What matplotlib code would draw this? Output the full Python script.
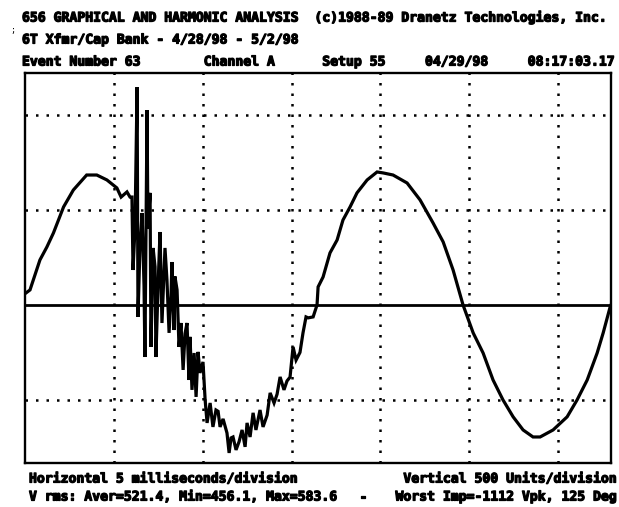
#!/usr/bin/env python3
"""
Dranetz 656 waveform capture, redrawn: one channel, 2 cycles, cap-switching transient.
Values read off the printout (time in ms, amplitude in units).
"""
import matplotlib
matplotlib.use('Agg')
import matplotlib.pyplot as plt
import matplotlib.patheffects as pe

# ---- waveform samples: clean rise, switching transient, ringing trough, clean cycle ----
T_MS = [0.00, 0.27, 0.83, 1.22, 1.59, 2.16, 2.71, 3.46, 4.03, 4.60, 5.16, 5.40, 5.73, 5.90,
        6.01, 6.07, 6.18, 6.30, 6.35, 6.46, 6.58, 6.69, 6.74, 6.86, 6.91, 7.03, 7.08, 7.20,
        7.31, 7.36, 7.48, 7.59, 7.70, 7.87, 7.98, 8.10, 8.21, 8.26, 8.38, 8.43, 8.55, 8.66,
        8.77, 8.89, 9.00, 9.11, 9.22, 9.28, 9.39, 9.51, 9.62, 9.73, 9.84, 10.01, 10.13, 10.24,
        10.41, 10.57, 10.74, 10.86, 10.97, 11.14, 11.36, 11.48, 11.59, 11.70, 11.87, 12.04,
        12.21, 12.38, 12.49, 12.66, 12.83, 12.99, 13.22, 13.39, 13.62, 13.79, 14.01, 14.18,
        14.35, 14.57, 14.74, 14.91, 15.08, 15.25, 15.47, 15.64, 15.81, 15.93, 16.21, 16.43,
        16.49, 16.77, 17.16, 17.56, 17.89, 18.29, 18.68, 19.25, 19.81, 20.15, 20.71, 21.50,
        22.23, 22.96, 23.53, 24.09, 24.65, 25.22, 25.78, 26.34, 26.90, 27.47, 28.03, 28.59,
        28.99, 29.72, 30.51, 31.07, 31.64, 32.20, 32.54, 32.93, 32.98]
VOLTS = [60, 79, 237, 305, 379, 516, 605, 684, 684, 658, 616, 568, 595, 568,
         568, 184, 400, 1147, -63, 300, 484, 100, -274, 1026, 400, 590, -221, 300,
         200, -274, 100, 384, -95, 300, 132, -147, 50, 226, -132, 150, 79, -221,
         -95, -342, -150, -95, -395, -168, -447, -253, -484, -247, -358, -300, -500, -621,
         -516, -642, -553, -560, -642, -600, -674, -779, -700, -695, -763, -720,
         -658, -747, -621, -695, -568, -658, -553, -642, -580, -463, -516, -470,
         -379, -447, -400, -380, -221, -290, -250, -147, -63, -68, -63, 0,
         95, 147, 274, 342, 447, 516, 590, 658, 700, 695, 684, 642,
         553, 432, 332, 184, 0, -147, -253, -395, -500, -589, -658, -695,
         -695, -658, -589, -500, -395, -253, -147, -11, 0]

X_GRID = [5, 10, 15, 20, 25, 30]          # 5 ms/division
Y_GRID = [-500, 500, 1000]                # 500 units/division
X_LIM = (0, 32.98)
Y_LIM = (-832, 1221)

HEADER = [
    '656 GRAPHICAL AND HARMONIC ANALYSIS  (c)1988-89 Dranetz Technologies, Inc.',
    '6T Xfmr/Cap Bank - 4/28/98 - 5/2/98',
    'Event Number 63        Channel A      Setup 55     04/29/98     08:17:03.17',
]
FOOT_LEFT = ['Horizontal 5 milliseconds/division',
             'V rms: Aver=521.4, Min=456.1, Max=583.6']
FOOT_RIGHT = ['Vertical 500 Units/division',
              'Worst Imp=-1112 Vpk, 125 Deg']

W, H = 619, 507
FONT = dict(family='DejaVu Sans Mono', weight='bold', fontsize=9.45, color='black',
            path_effects=[pe.withStroke(linewidth=0.9, foreground='black')])


def main():
    fig = plt.figure(figsize=(W / 100, H / 100), dpi=100)
    fig.patch.set_facecolor('white')
    # plot box in pixel terms: x 25..611, y 73..463
    ax = fig.add_axes([25.2 / W, (H - 463) / H, (611 - 25.2) / W, (463 - 73) / H])
    ax.set_xlim(*X_LIM); ax.set_ylim(*Y_LIM)
    ax.set_xticks([]); ax.set_yticks([])
    for s in ax.spines.values():
        s.set_linewidth(1.7); s.set_color('black')

    for x in X_GRID:
        ax.axvline(x, color='black', lw=1.8, ls=(0, (1, 3.2)), zorder=1)
    for y in Y_GRID:
        ax.axhline(y, color='black', lw=1.8, ls=(0, (1, 3.2)), zorder=1)
    ax.axhline(0, color='black', lw=2.0, zorder=2)

    ax.plot(T_MS, VOLTS, color='black', lw=2.3, solid_joinstyle='miter', zorder=3)

    # header / footer text, placed in pixel coords
    def put(px, py, s, ha='left'):
        fig.text(px / W, 1 - py / H, s, ha=ha, va='center', **FONT)

    for i, line in enumerate(HEADER):
        put(22, 18 + i * 22, line)
    fig.text(10 / W, 1 - 33 / H, ';', fontsize=6, family='DejaVu Sans Mono')
    put(29, 479, FOOT_LEFT[0])
    put(29, 497, FOOT_LEFT[1])
    put(616, 479, FOOT_RIGHT[0], ha='right')
    put(616, 497, FOOT_RIGHT[1], ha='right')
    put(363, 497, '-', ha='center')

    fig.savefig('out.png', dpi=100, facecolor='white')
    plt.close(fig)


if __name__ == '__main__':
    main()
